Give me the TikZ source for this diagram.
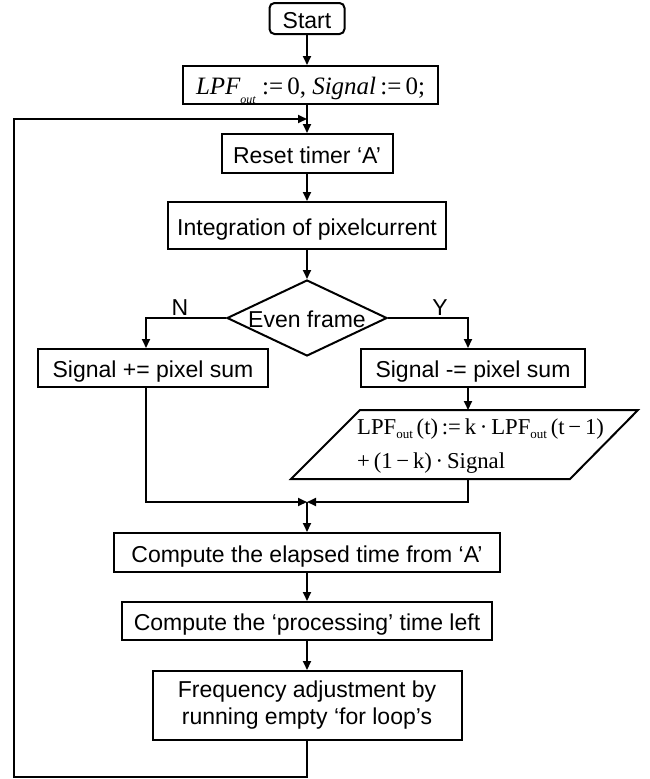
\documentclass[tikz,border=0pt]{standalone}
\usepackage{fontspec}
\setmainfont{Liberation Sans}
\newfontfamily\timesf{Liberation Serif}
\usetikzlibrary{arrows.meta,calc,shapes.geometric}
\begin{document}
\begin{tikzpicture}[x=1pt,y=-1pt,
  every node/.style={font=\fontsize{23}{27}\selectfont},
  ln/.style={line width=2pt},
  blk/.style={draw,line width=2pt,inner sep=0pt,align=center},
  onel/.style={text height=19.5pt,text depth=0pt},
  arr/.style={line width=2pt,-{Triangle[length=9pt,width=8pt]}}]
\useasboundingbox (0,0) rectangle (649,779);

\node[blk,onel,rounded corners=5pt,minimum width=75pt,minimum height=31pt] (start) at (307,18.5) {Start};
\node[blk,text height=18pt,text depth=0pt,minimum width=255pt,minimum height=38pt,
  font=\timesf\fontsize{25}{25}\selectfont] (init) at (310.5,85)
  {\itshape LPF\raisebox{-9pt}{\fontsize{12}{12}\selectfont out}\upshape\ :=\,0, \itshape Signal\upshape\,:=\,0;};
\node[blk,onel,minimum width=171pt,minimum height=39pt] (reset) at (307,153.5) {Reset timer ‘A’};
\node[blk,onel,minimum width=278pt,minimum height=47pt] (integ) at (307,225.5) {Integration of pixelcurrent};
\node[draw,ln,onel,shape=diamond,shape aspect=2.1,inner sep=0pt,minimum width=160pt,minimum height=76pt] (dec) at (307,318) {Even frame};
\node (nlab) at (180,308) {N};
\node (ylab) at (440,308) {Y};
\node[blk,onel,minimum width=230pt,minimum height=38pt] (sp) at (153,368) {Signal += pixel sum};
\node[blk,onel,minimum width=224pt,minimum height=38pt] (sm) at (473,368) {Signal -= pixel sum};

\coordinate (pTL) at (360,410);
\coordinate (pTR) at (638,410);
\coordinate (pBR) at (570,479);
\coordinate (pBL) at (291,479);
\draw[ln] (pTL) -- (pTR) -- (pBR) -- (pBL) -- cycle;
\node[anchor=west,inner sep=0pt,align=left,font=\timesf\fontsize{22.7}{34}\selectfont] (upd) at (357,446.5)
  {LPF\raisebox{-4pt}{\fontsize{13}{13}\selectfont out}\,(t)\,:=\,k\,·\,LPF\raisebox{-4pt}{\fontsize{13}{13}\selectfont out}\,(t\,−\,1)\\
   +\,(1\,−\,k)\,·\,Signal};

\node[blk,onel,minimum width=386pt,minimum height=39pt] (comp) at (307,552.5) {Compute the elapsed time from ‘A’};
\node[blk,onel,minimum width=370pt,minimum height=38pt] (proc) at (307,621) {Compute the ‘processing’ time left};
\node[blk,minimum width=309pt,minimum height=69pt] (freq) at (307,705.5) {Frequency adjustment by\\running empty ‘for loop’s};

\coordinate (nb) at (146,0);
\coordinate (yb) at (468,0);
\coordinate (m) at (307,502);
\coordinate (lb) at (14,777);
\coordinate (lt) at (14,119);
\coordinate (ret) at (307,119);

\draw[arr] (start.south) -- (start.south |- init.north);
\draw[arr] (start.south |- init.south) -- (reset.north);
\draw[arr] (reset.south) -- (integ.north);
\draw[arr] (integ.south) -- (dec.north);
\draw[arr] (dec.west) -| (nb |- sp.north);
\draw[arr] (dec.east) -| (yb |- sm.north);
\draw[arr] (yb |- sm.south) -- (yb |- pTL);
\draw[arr] (nb |- sp.south) |- (m);
\draw[arr] (yb |- pBR) |- (m);
\draw[arr] (m) -- (comp.north);
\draw[arr] (comp.south) -- (proc.north);
\draw[arr] (proc.south) -- (freq.north);
\draw[arr] (freq.south) |- (lb) -- (lt) -- (ret);
\end{tikzpicture}
\end{document}
